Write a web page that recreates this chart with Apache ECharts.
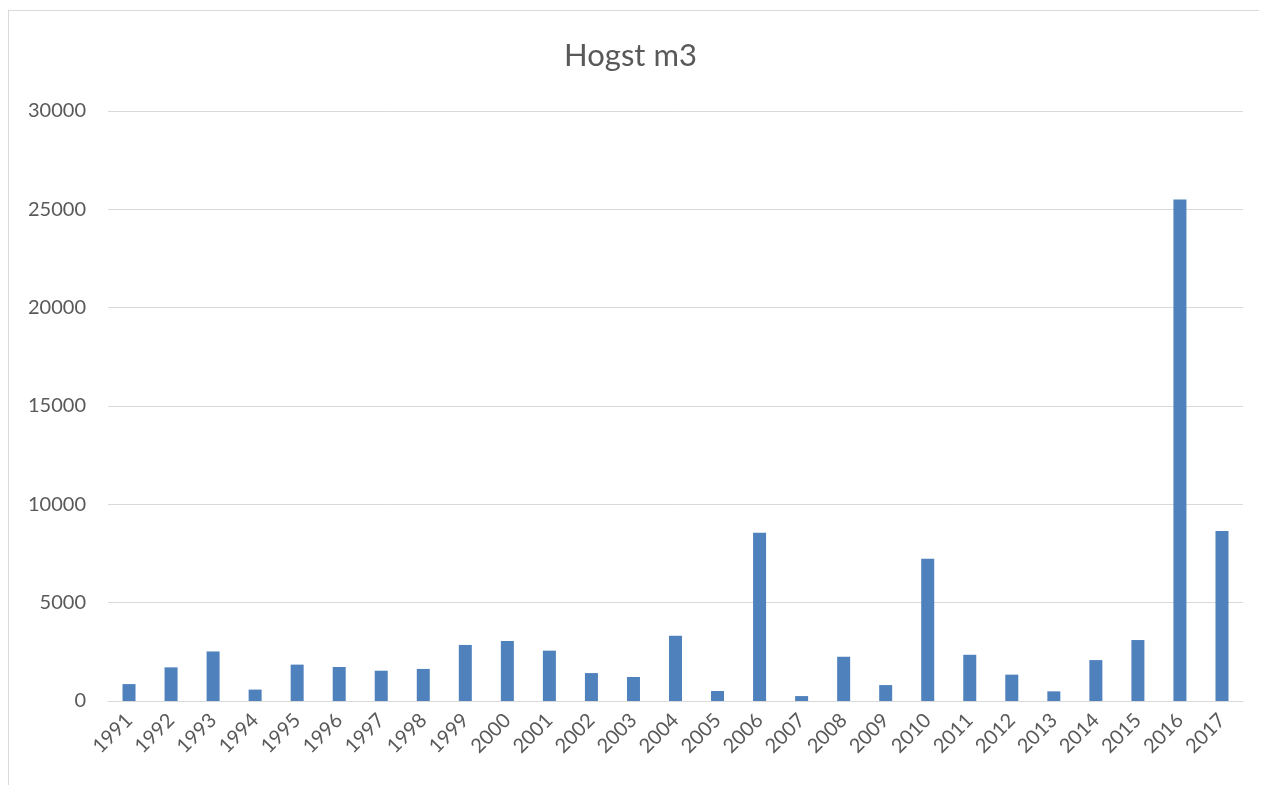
<!DOCTYPE html>
<html>
<head>
    <meta charset="UTF-8">
    <title>Hogst m3</title>
    <script src="https://cdn.jsdelivr.net/npm/echarts@6/dist/echarts.min.js"></script>
    <style>
        body {
            margin: 0;
            background: #ffffff;
        }
        .frame {
            position: absolute;
            left: 8px;
            top: 10px;
            width: 1250px;
            height: 780px;
            border-left: 1px solid #d9d9d9;
            border-top: 1px solid #d9d9d9;
        }
        #chart {
            position: absolute;
            left: 0;
            top: 0;
            width: 1261px;
            height: 785px;
        }
    </style>
</head>
<body>
<div class="frame"></div>
<div id="chart"></div>
<script>
    const years = ['1991', '1992', '1993', '1994', '1995', '1996', '1997', '1998', '1999', '2000',
        '2001', '2002', '2003', '2004', '2005', '2006', '2007', '2008', '2009', '2010',
        '2011', '2012', '2013', '2014', '2015', '2016', '2017'];
    const hogst = [860, 1710, 2520, 580, 1850, 1730, 1540, 1630, 2850, 3050,
        2560, 1420, 1220, 3320, 510, 8550, 250, 2250, 810, 7230,
        2350, 1340, 490, 2080, 3100, 25500, 8640];
    const yTicks = [0, 5000, 10000, 15000, 20000, 25000, 30000];

    const chart = echarts.init(document.getElementById('chart'));
    const textColor = '#595959';
    const fontFamily = 'Lato, "Open Sans", sans-serif';

    chart.setOption({
        animation: false,
        title: {
            text: 'Hogst m3',
            left: 'center',
            top: 35,
            textStyle: {
                fontSize: 31,
                fontWeight: 'normal',
                color: textColor,
                fontFamily: fontFamily
            }
        },
        grid: {
            left: 108,
            right: 18,
            top: 111,
            bottom: 84
        },
        xAxis: {
            type: 'category',
            data: years,
            axisTick: { show: false },
            axisLine: { lineStyle: { color: '#d9d9d9', width: 1 } },
            axisLabel: {
                rotate: 45,
                interval: 0,
                margin: 16,
                fontSize: 20,
                color: textColor,
                fontFamily: fontFamily
            }
        },
        yAxis: {
            type: 'value',
            min: yTicks[0],
            max: yTicks[yTicks.length - 1],
            interval: 5000,
            axisLine: { show: false },
            axisTick: { show: false },
            splitLine: { lineStyle: { color: '#d9d9d9', width: 1 } },
            axisLabel: {
                margin: 22,
                fontSize: 20,
                color: textColor,
                fontFamily: fontFamily,
                formatter: function (v) { return String(v); }
            }
        },
        series: [
            {
                name: 'Hogst m3',
                type: 'bar',
                barWidth: 13,
                data: hogst,
                itemStyle: {
                    color: '#4f81bd'
                }
            }
        ]
    });
</script>
</body>
</html>
